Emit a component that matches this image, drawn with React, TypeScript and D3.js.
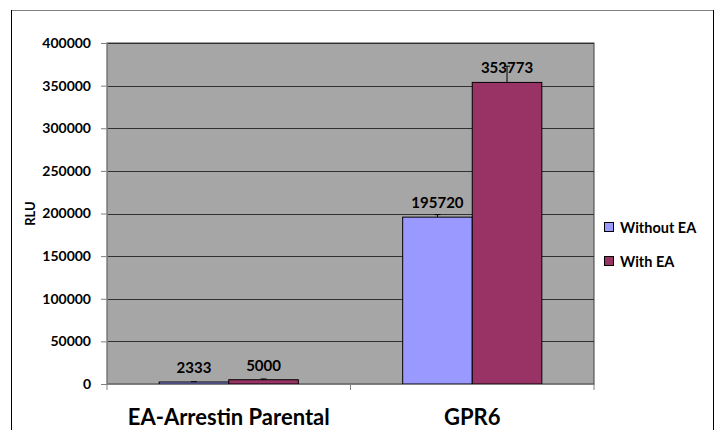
import React, { useEffect, useRef } from 'react';
import * as d3 from 'd3';

const categories = ['EA-Arrestin Parental', 'GPR6'];
const seriesNames = ['Without EA', 'With EA'];
const withoutEA = [2333, 195720];
const withEA = [5000, 353773];
const withoutEAErr = [400, 3000];
const withEAErr = [900, 19000];
const yTicks = [0, 50000, 100000, 150000, 200000, 250000, 300000, 350000, 400000];
const colors = ['#9999ff', '#993366'];

export default function App() {
  const svgRef = useRef<SVGSVGElement>(null);

  useEffect(() => {
    if (!svgRef.current) return;
    const svg = d3.select(svgRef.current);
    svg.selectAll('*').remove();

    const W = 717;
    const H = 430;
    const margin = { top: 43, left: 107, right: 123, bottom: 46 };
    const innerW = W - margin.left - margin.right;
    const innerH = H - margin.top - margin.bottom;
    const font = 'Lato, "Open Sans", sans-serif';

    svg.attr('width', W).attr('height', H);

    // outer chart frame
    svg.append('rect')
      .attr('x', 11.5).attr('y', 10.5)
      .attr('width', 702).attr('height', 440)
      .attr('fill', 'white').attr('stroke', '#808080').attr('stroke-width', 1);
    svg.append('line').attr('x1', 11.5).attr('x2', 11.5).attr('y1', 10).attr('y2', 430).attr('stroke', '#000');
    svg.append('line').attr('x1', 713.5).attr('x2', 713.5).attr('y1', 10).attr('y2', 430).attr('stroke', '#000');

    const g = svg.append('g').attr('transform', `translate(${margin.left},${margin.top})`);

    const x0 = d3.scaleBand().domain(categories).range([0, innerW]).paddingInner(0).paddingOuter(0);
    const x1 = d3.scaleBand().domain(seriesNames).range([0, x0.bandwidth()]).paddingOuter(0.75).paddingInner(0);
    const y = d3.scaleLinear().domain([0, 400000]).range([innerH, 0]);

    // plot background
    g.append('rect')
      .attr('width', innerW).attr('height', innerH)
      .attr('fill', '#a6a6a6').attr('stroke', '#404040');

    // gridlines
    g.append('g')
      .selectAll('line')
      .data(yTicks.slice(1))
      .enter()
      .append('line')
      .attr('x1', 0).attr('x2', innerW)
      .attr('y1', (d) => Math.round(y(d)) + 0.5).attr('y2', (d) => Math.round(y(d)) + 0.5)
      .attr('stroke', '#303030').attr('stroke-width', 1.2);

    const rows = categories.map((c, i) => ({ cat: c, vals: [withoutEA[i], withEA[i]], errs: [withoutEAErr[i], withEAErr[i]] }));

    const groups = g.selectAll('.grp')
      .data(rows)
      .enter()
      .append('g')
      .attr('transform', (d) => `translate(${x0(d.cat)},0)`);

    const bars = groups.selectAll('.bar')
      .data((d) => d.vals.map((v, j) => ({ key: seriesNames[j], v, e: d.errs[j], j })))
      .enter()
      .append('g');

    bars.append('rect')
      .attr('x', (d) => x1(d.key) || 0)
      .attr('y', (d) => y(d.v))
      .attr('width', x1.bandwidth())
      .attr('height', (d) => innerH - y(d.v))
      .attr('fill', (d) => colors[d.j])
      .attr('stroke', '#000').attr('stroke-width', 1);

    // error bars
    bars.append('line')
      .attr('x1', (d) => (x1(d.key) || 0) + x1.bandwidth() / 2)
      .attr('x2', (d) => (x1(d.key) || 0) + x1.bandwidth() / 2)
      .attr('y1', (d) => y(d.v))
      .attr('y2', (d) => y(d.v + d.e))
      .attr('stroke', '#000');
    bars.append('line')
      .attr('x1', (d) => (x1(d.key) || 0) + x1.bandwidth() / 2 - 3)
      .attr('x2', (d) => (x1(d.key) || 0) + x1.bandwidth() / 2 + 3)
      .attr('y1', (d) => y(d.v + d.e))
      .attr('y2', (d) => y(d.v + d.e))
      .attr('stroke', '#000');

    // data labels
    bars.append('text')
      .attr('x', (d) => (x1(d.key) || 0) + x1.bandwidth() / 2)
      .attr('y', (d) => y(d.v) - 9)
      .attr('text-anchor', 'middle')
      .style('font-family', font)
      .style('font-weight', 'bold')
      .style('font-size', '15px')
      .attr('fill', '#000')
      .text((d) => String(d.v));

    // y axis
    const yAxis = g.append('g')
      .call(d3.axisLeft(y).tickValues(yTicks).tickSize(6).tickPadding(10).tickFormat((d) => String(d)));
    yAxis.select('.domain').attr('stroke', '#808080');
    yAxis.selectAll('.tick line').attr('stroke', '#808080');
    yAxis.selectAll('text')
      .style('font-family', font)
      .style('font-weight', 'bold')
      .style('font-size', '14px')
      .attr('fill', '#000');

    // x axis
    const xAxis = g.append('g')
      .attr('transform', `translate(0,${innerH})`)
      .call(d3.axisBottom(x0).tickSize(0).tickPadding(25));
    xAxis.select('.domain').attr('stroke', '#808080');
    xAxis.selectAll('text')
      .style('font-family', font)
      .style('font-weight', 'bold')
      .style('font-size', '22px')
      .attr('fill', '#000');
    xAxis.selectAll('.sep')
      .data([0, innerW / 2, innerW])
      .enter()
      .append('line')
      .attr('x1', (d) => d).attr('x2', (d) => d)
      .attr('y1', 0).attr('y2', 6)
      .attr('stroke', '#808080');

    // y title
    svg.append('text')
      .attr('transform', `translate(35,${margin.top + innerH / 2}) rotate(-90)`)
      .attr('text-anchor', 'middle')
      .style('font-family', font)
      .style('font-weight', 'bold')
      .style('font-size', '13px')
      .text('RLU');

    // legend
    const legend = svg.append('g').attr('transform', `translate(604,222)`);
    seriesNames.forEach((s, i) => {
      const row = legend.append('g').attr('transform', `translate(0,${i * 34})`);
      row.append('rect').attr('x', 0.5).attr('y', 0.5).attr('width', 9).attr('height', 9)
        .attr('fill', colors[i]).attr('stroke', '#000');
      row.append('text').attr('x', 16).attr('y', 10.5)
        .style('font-family', font).style('font-weight', 'bold').style('font-size', '14.5px')
        .text(s);
    });
  }, []);

  return <svg ref={svgRef} style={{ display: 'block', position: 'absolute', left: 0, top: 0 }} />;
}
